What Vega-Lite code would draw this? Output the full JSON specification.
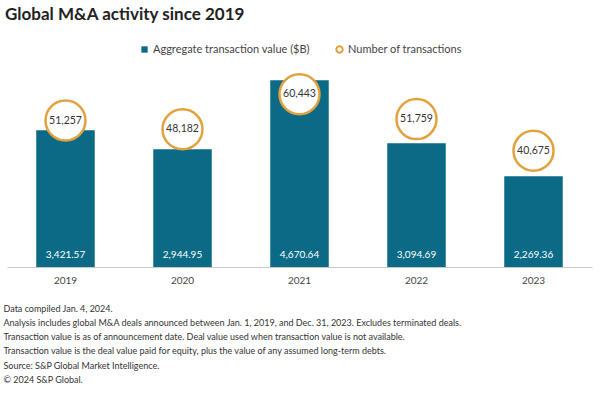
{
  "$schema": "https://vega.github.io/schema/vega-lite/v6.json",
  "width": 585,
  "height": 200,
  "autosize": "none",
  "padding": {"left": 7, "top": 67, "right": 8, "bottom": 128},
  "background": "white",
  "config": {
    "font": "Lato",
    "view": {"stroke": null},
    "legend": {"labelFont": "Lato", "labelFontSize": 11, "labelColor": "#444", "padding": 0}
  },
  "title": {
    "text": "Global M&A activity since 2019",
    "anchor": "start",
    "frame": "group",
    "font": "Lato",
    "fontSize": 17,
    "fontWeight": "bold",
    "color": "#222",
    "dx": -2,
    "offset": 20
  },
  "data": {
    "values": [
      {"year": "2019", "value": 3421.57, "count": 51257, "vlabel": "3,421.57", "clabel": "51,257"},
      {"year": "2020", "value": 2944.95, "count": 48182, "vlabel": "2,944.95", "clabel": "48,182"},
      {"year": "2021", "value": 4670.64, "count": 60443, "vlabel": "4,670.64", "clabel": "60,443"},
      {"year": "2022", "value": 3094.69, "count": 51759, "vlabel": "3,094.69", "clabel": "51,759"},
      {"year": "2023", "value": 2269.36, "count": 40675, "vlabel": "2,269.36", "clabel": "40,675"}
    ]
  },
  "encoding": {
    "x": {
      "field": "year",
      "type": "nominal",
      "scale": {"paddingInner": 0.5, "paddingOuter": 0.25},
      "axis": {
        "labelAngle": 0,
        "labelFontSize": 10,
        "labelColor": "#444",
        "labelPadding": 8,
        "ticks": false,
        "domainColor": "#c8c8c8",
        "title": [
          "Data compiled Jan. 4, 2024.",
          "Analysis includes global M&A deals announced between Jan. 1, 2019, and Dec. 31, 2023. Excludes terminated deals.",
          "Transaction value is as of announcement date. Deal value used when transaction value is not available.",
          "Transaction value is the deal value paid for equity, plus the value of any assumed long-term debts.",
          "Source: S&P Global Market Intelligence.",
          "© 2024 S&P Global."
        ],
        "titleAnchor": "start",
        "titleAlign": "left",
        "titleBaseline": "top",
        "titleX": -4,
        "titleY": 37,
        "titleFontSize": 9,
        "titleFontWeight": "normal",
        "titleColor": "#333",
        "titleLineHeight": 14.3
      }
    }
  },
  "layer": [
    {
      "layer": [
        {
          "mark": {"type": "bar"},
          "encoding": {
            "y": {"field": "value", "type": "quantitative", "scale": {"domain": [0, 4914]}, "axis": null},
            "fill": {
              "datum": "Aggregate transaction value ($B)",
              "type": "nominal",
              "scale": {"range": ["#0b6a85"]},
              "legend": {"title": null, "orient": "none", "legendX": 132, "legendY": -23, "symbolType": "square", "symbolSize": 40, "labelOffset": 3}
            }
          }
        },
        {
          "mark": {"type": "text", "color": "white", "fontSize": 10, "dy": -12, "baseline": "middle"},
          "encoding": {
            "y": {"datum": 0, "type": "quantitative"},
            "text": {"field": "vlabel"}
          }
        }
      ]
    },
    {
      "layer": [
        {
          "mark": {"type": "point", "shape": "circle", "size": 1600, "filled": true, "fill": "white", "strokeWidth": 2.5, "opacity": 1},
          "encoding": {
            "y": {"field": "count", "type": "quantitative", "scale": {"domain": [0, 69085]}, "axis": null},
            "stroke": {
              "datum": "Number of transactions",
              "type": "nominal",
              "scale": {"range": ["#e3a13d"]},
              "legend": {"title": null, "orient": "none", "legendX": 327, "legendY": -23, "symbolType": "circle", "symbolSize": 40, "symbolStrokeWidth": 2, "symbolFillColor": "white", "labelOffset": 3}
            }
          }
        },
        {
          "mark": {"type": "text", "color": "#333", "fontSize": 10.5, "baseline": "middle"},
          "encoding": {
            "y": {"field": "count", "type": "quantitative"},
            "text": {"field": "clabel"}
          }
        }
      ]
    }
  ],
  "resolve": {"scale": {"y": "independent", "fill": "independent", "stroke": "independent"}}
}
